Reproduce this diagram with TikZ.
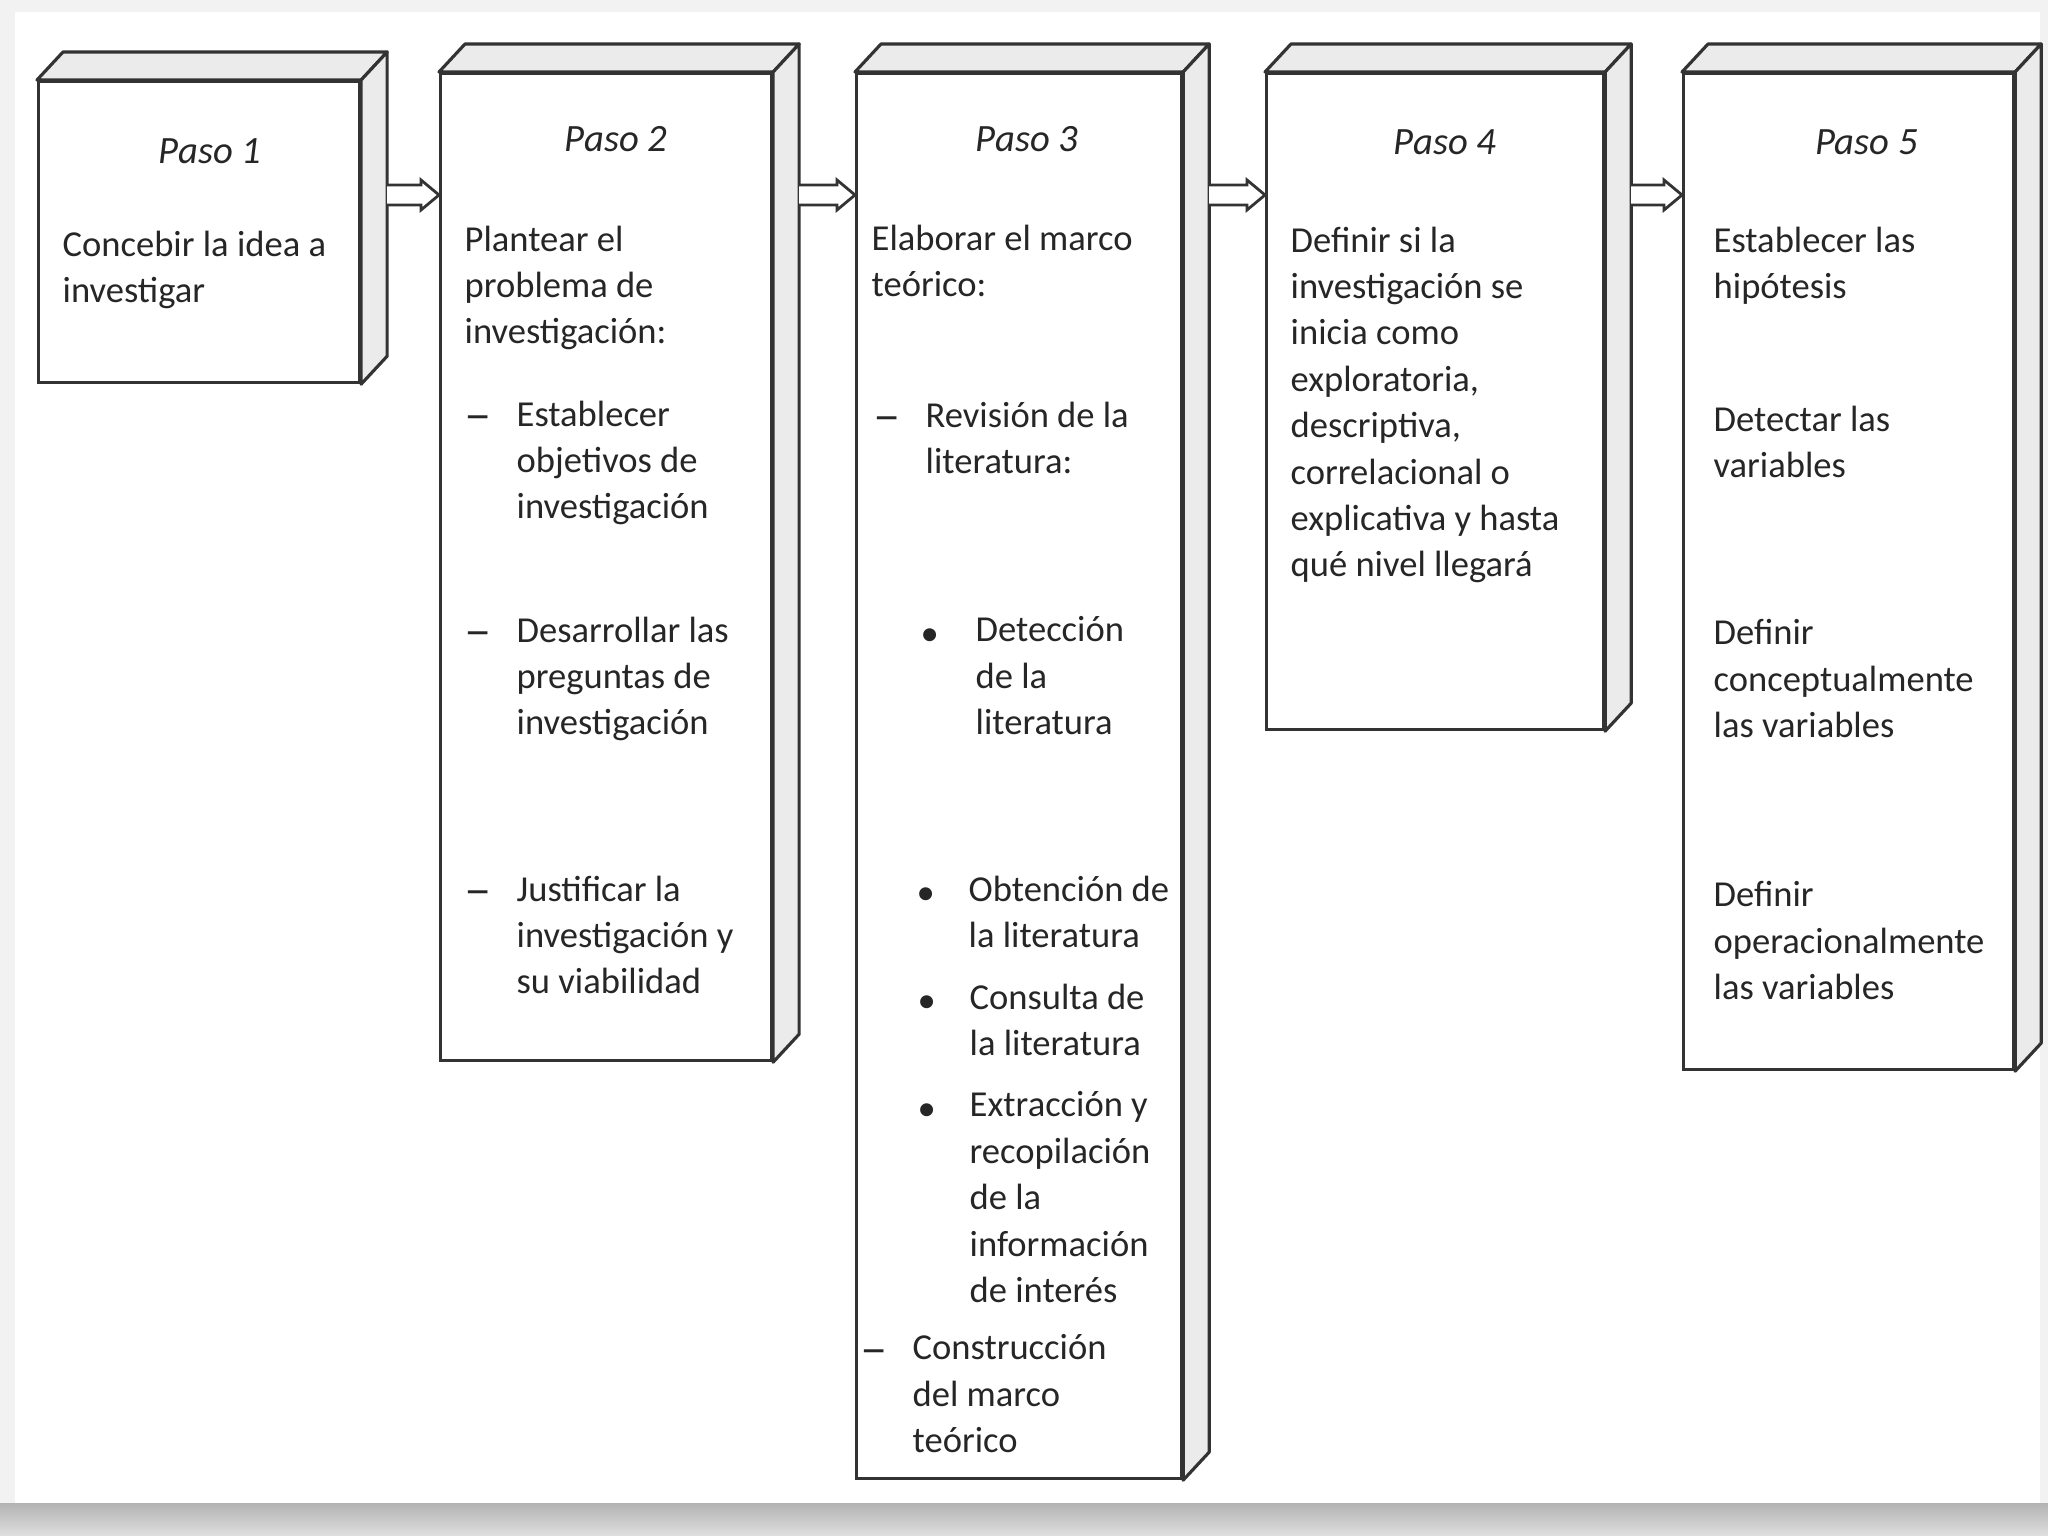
\documentclass[tikz,border=0pt]{standalone}
\usepackage{fontspec}
\setmainfont{Carlito}
\usepackage{tikz}
\usetikzlibrary{arrows.meta,positioning,calc}

\begin{document}
\begin{tikzpicture}[
        caja/.style={rectangle, draw=black!80, fill=white, anchor=north west, inner sep=0pt, line width=0.9pt},
        cara/.style={draw=black!80, fill=gray!16, line width=0.9pt, line join=round},
        titulo/.style={font=\fontsize{11}{13}\selectfont\itshape, text=black!85, inner sep=0pt},
        texto/.style={font=\fontsize{10.4}{13.2}\selectfont, text=black!85, align=left, inner sep=0pt, anchor=north west, execute at begin node=\strut},
        flecha/.style={draw=black!80, fill=white, line width=0.8pt, line join=miter,
            to path={($(\tikztostart)+(0,0.1)$) -- ($(\tikztotarget)+(-0.18,0.1)$) -- ($(\tikztotarget)+(-0.18,0.15)$) -- (\tikztotarget)
                -- ($(\tikztotarget)+(-0.18,-0.15)$) -- ($(\tikztotarget)+(-0.18,-0.1)$) -- ($(\tikztostart)+(0,-0.1)$)}}
    ]

    % Fondo de la hoja escaneada
    \useasboundingbox (0,0) rectangle (20.48,-15.36);
    \fill[gray!10] (0,0) rectangle (20.48,-15.36);
    \fill[white] (0.15,-0.12) rectangle (20.40,-15.03);
    \shade[top color=gray!60, bottom color=gray!25] (0,-15.03) rectangle (20.48,-15.36);

    % Cajas de los cinco pasos
    \node [caja, minimum width=3.21cm, minimum height=3.01cm] (p1) at (0.37,-0.80) {};
    \node [caja, minimum width=3.31cm, minimum height=9.87cm] (p2) at (4.39,-0.72) {};
    \node [caja, minimum width=3.25cm, minimum height=14.05cm] (p3) at (8.55,-0.72) {};
    \node [caja, minimum width=3.37cm, minimum height=6.56cm] (p4) at (12.65,-0.72) {};
    \node [caja, minimum width=3.30cm, minimum height=9.96cm] (p5) at (16.82,-0.72) {};

    % Caras superior y lateral (efecto 3D)
    \foreach \nodo in {p1,p2,p3,p4,p5} {
        \draw [cara] (\nodo.north west) -- ++(0.26,0.28) -- ($(\nodo.north east)+(0.26,0.28)$) -- (\nodo.north east) -- cycle;
        \draw [cara] (\nodo.north east) -- ++(0.26,0.28) -- ($(\nodo.south east)+(0.26,0.28)$) -- (\nodo.south east) -- cycle;
    }

    % Flechas entre pasos
    \draw [flecha] ([shift={(0.26,-1.15)}]p1.north east) to ([yshift=-1.23cm]p2.north west);
    \draw [flecha] ([shift={(0.26,-1.23)}]p2.north east) to ([yshift=-1.23cm]p3.north west);
    \draw [flecha] ([shift={(0.26,-1.23)}]p3.north east) to ([yshift=-1.23cm]p4.north west);
    \draw [flecha] ([shift={(0.26,-1.23)}]p4.north east) to ([yshift=-1.23cm]p5.north west);

    % Titulos
    \node [titulo, below=0.58cm of p1.north, xshift=0.11cm] (t1) {Paso 1};
    \node [titulo, below=0.54cm of p2.north, xshift=0.10cm] (t2) {Paso 2};
    \node [titulo, below=0.54cm of p3.north, xshift=0.08cm] (t3) {Paso 3};
    \node [titulo, below=0.57cm of p4.north, xshift=0.10cm] (t4) {Paso 4};
    \node [titulo, below=0.57cm of p5.north, xshift=0.18cm] (t5) {Paso 5};

    % Paso 1
    \node [texto, below right=1.50cm and 0.25cm of p1.north west] (p1a) {Concebir la idea a\\investigar};

    % Paso 2
    \node [texto, below right=1.53cm and 0.25cm of p2.north west] (p2a) {Plantear el\\problema de\\investigación:};
    \node [texto, below right=3.28cm and 0.77cm of p2.north west] (p2b) {Establecer\\objetivos de\\investigación};
    \node [texto, below right=5.44cm and 0.77cm of p2.north west] (p2c) {Desarrollar las\\preguntas de\\investigación};
    \node [texto, below right=8.03cm and 0.77cm of p2.north west] (p2d) {Justificar la\\investigación y\\su viabilidad};
    \node [texto, left=0.52cm of p2b.north west, anchor=north west] (p2bm) {\raisebox{0.08em}{\scalebox{1.5}[1.3]{\textendash}}};
    \node [texto, left=0.52cm of p2c.north west, anchor=north west] (p2cm) {\raisebox{0.08em}{\scalebox{1.5}[1.3]{\textendash}}};
    \node [texto, left=0.52cm of p2d.north west, anchor=north west] (p2dm) {\raisebox{0.08em}{\scalebox{1.5}[1.3]{\textendash}}};

    % Paso 3
    \node [texto, below right=1.52cm and 0.16cm of p3.north west] (p3a) {Elaborar el marco\\teórico:};
    \node [texto, below right=3.29cm and 0.70cm of p3.north west] (p3b) {Revisión de la\\literatura:};
    \node [texto, below right=5.44cm and 1.20cm of p3.north west] (p3c) {Detección\\de la\\literatura};
    \node [texto, below right=8.03cm and 1.13cm of p3.north west] (p3d) {Obtención de\\la literatura};
    \node [texto, below right=9.11cm and 1.14cm of p3.north west] (p3e) {Consulta de\\la literatura};
    \node [texto, below right=10.19cm and 1.14cm of p3.north west] (p3f) {Extracción y\\recopilación\\de la\\información\\de interés};
    \node [texto, below right=12.62cm and 0.57cm of p3.north west] (p3g) {Construcción\\del marco\\teórico};
    \node [texto, left=0.52cm of p3b.north west, anchor=north west] (p3bm) {\raisebox{0.08em}{\scalebox{1.5}[1.3]{\textendash}}};
    \node [texto, left=0.55cm of p3c.north west, anchor=north west] (p3cm) {\raisebox{0.1em}{\textbullet}};
    \node [texto, left=0.52cm of p3d.north west, anchor=north west] (p3dm) {\raisebox{0.1em}{\textbullet}};
    \node [texto, left=0.52cm of p3e.north west, anchor=north west] (p3em) {\raisebox{0.1em}{\textbullet}};
    \node [texto, left=0.52cm of p3f.north west, anchor=north west] (p3fm) {\raisebox{0.1em}{\textbullet}};
    \node [texto, left=0.52cm of p3g.north west, anchor=north west] (p3gm) {\raisebox{0.08em}{\scalebox{1.5}[1.3]{\textendash}}};

    % Paso 4
    \node [texto, below right=1.54cm and 0.25cm of p4.north west] (p4a) {Definir si la\\investigación se\\inicia como\\exploratoria,\\descriptiva,\\correlacional o\\explicativa y hasta\\qué nivel llegará};

    % Paso 5
    \node [texto, below right=1.54cm and 0.31cm of p5.north west] (p5a) {Establecer las\\hipótesis};
    \node [texto, below right=3.33cm and 0.31cm of p5.north west] (p5b) {Detectar las\\variables};
    \node [texto, below right=5.47cm and 0.31cm of p5.north west] (p5c) {Definir\\conceptualmente\\las variables};
    \node [texto, below right=8.09cm and 0.31cm of p5.north west] (p5d) {Definir\\operacionalmente\\las variables};

\end{tikzpicture}
\end{document}
